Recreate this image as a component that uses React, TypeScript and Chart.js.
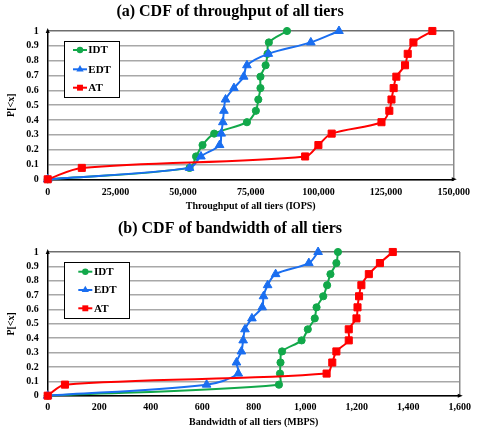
import React, { useEffect, useRef } from 'react';
import { Chart, registerables } from 'chart.js';

Chart.register(...registerables);

// ---- data ----
const CDF_P = [0, 0.077, 0.154, 0.231, 0.308, 0.385, 0.462, 0.538, 0.615, 0.692, 0.769, 0.846, 0.923, 1];

const IDT_IOPS = [0, 52400, 54800, 57200, 61500, 73600, 76900, 77800, 78600, 78600, 80500, 81200, 81700, 88400];
const EDT_IOPS = [0, 52400, 56600, 63500, 64100, 64700, 65100, 65700, 68800, 72400, 73600, 81500, 97200, 107600];
const AT_IOPS = [0, 12600, 95100, 100000, 104900, 123300, 126200, 127000, 127800, 128800, 132000, 133000, 135100, 142100];

const IDT_MBPS = [0, 898, 902, 904, 910, 986, 1010, 1037, 1044, 1070, 1085, 1098, 1121, 1127];
const EDT_MBPS = [0, 617, 740, 733, 752, 759, 766, 793, 833, 838, 854, 885, 1014, 1050];
const AT_MBPS = [0, 67, 1083, 1105, 1121, 1169, 1169, 1199, 1203, 1209, 1218, 1247, 1290, 1340];

const SERIES_LABELS = ['IDT', 'EDT', 'AT'];
const X_TICKS_IOPS = ['0', '25,000', '50,000', '75,000', '100,000', '125,000', '150,000'];
const X_TICKS_MBPS = ['0', '200', '400', '600', '800', '1,000', '1,200', '1,400', '1,600'];
const Y_TICKS = ['0', '0.1', '0.2', '0.3', '0.4', '0.5', '0.6', '0.7', '0.8', '0.9', '1'];

const FONT = "'Liberation Serif', 'Times New Roman', serif";
const COLORS = ['#12a84a', '#1a6ef0', '#ff0000'];
const STYLES = ['circle', 'triangle', 'rect'];
const RADII = [3.6, 5, 5];
const ORDERS = [3, 2, 1];

type Cfg = {
  title: string;
  xTitle: string;
  xMax: number;
  xStep: number;
  xTicks: string[];
  values: number[][];
  titlePad: { top: number; bottom: number };
  xHeight: number;
  xTickPad: number;
  xTitlePad: number;
  legend: { left: number; width: number; lineOff: number; textOff: number; rows: number[] };
};

function drawMarker(ctx: CanvasRenderingContext2D, style: string, x: number, y: number, r: number) {
  ctx.beginPath();
  if (style === 'circle') {
    ctx.arc(x, y, r, 0, Math.PI * 2);
  } else if (style === 'triangle') {
    ctx.moveTo(x, y - r);
    ctx.lineTo(x + r * 0.866, y + r * 0.5);
    ctx.lineTo(x - r * 0.866, y + r * 0.5);
    ctx.closePath();
  } else {
    const s = r * 0.707;
    ctx.rect(x - s, y - s, 2 * s, 2 * s);
  }
  ctx.fill();
}

function CdfChart({ cfg }: { cfg: Cfg }) {
  const ref = useRef<HTMLCanvasElement>(null);
  useEffect(() => {
    const frame = {
      id: 'frame',
      beforeDatasetsDraw(chart: any) {
        const { ctx, chartArea: a } = chart;
        ctx.save();
        ctx.strokeStyle = '#8a8a8a';
        ctx.lineWidth = 1.5;
        ctx.beginPath();
        ctx.moveTo(a.right, a.top);
        ctx.lineTo(a.right, a.bottom);
        ctx.stroke();
        ctx.fillStyle = '#000';
        ctx.beginPath();
        ctx.moveTo(a.left, a.top - 3);
        ctx.lineTo(a.left - 2, a.top + 2);
        ctx.lineTo(a.left + 2, a.top + 2);
        ctx.closePath();
        ctx.fill();
        ctx.beginPath();
        ctx.moveTo(a.right + 3, a.bottom);
        ctx.lineTo(a.right - 2, a.bottom - 2);
        ctx.lineTo(a.right - 2, a.bottom + 2);
        ctx.closePath();
        ctx.fill();
        ctx.restore();
      },
      afterDraw(chart: any) {
        const { ctx, chartArea: a } = chart;
        const L = cfg.legend;
        const bx = a.left + L.left;
        const by = a.top + 10;
        ctx.save();
        ctx.fillStyle = '#fff';
        ctx.fillRect(bx, by, L.width, 56);
        ctx.strokeStyle = '#000';
        ctx.lineWidth = 1;
        ctx.strokeRect(Math.round(bx) + 0.5, Math.round(by) + 0.5, L.width, 56);
        chart.data.datasets.forEach((ds: any, i: number) => {
          const y = by + L.rows[i];
          const x0 = bx + L.lineOff;
          ctx.strokeStyle = ds.borderColor;
          ctx.lineWidth = 2;
          ctx.beginPath();
          ctx.moveTo(x0, y);
          ctx.lineTo(x0 + 14, y);
          ctx.stroke();
          ctx.fillStyle = ds.borderColor;
          drawMarker(ctx, STYLES[i], x0 + 7, y, i === 0 ? 3.2 : 4.2);
          ctx.fillStyle = '#000';
          ctx.font = `bold 11px ${FONT}`;
          ctx.textBaseline = 'middle';
          ctx.textAlign = 'left';
          ctx.fillText(ds.label, bx + L.textOff, y + 0.5);
        });
        ctx.restore();
      },
    };

    const chart = new Chart(ref.current as HTMLCanvasElement, {
      type: 'line',
      data: {
        datasets: SERIES_LABELS.map((label, i) => ({
          label,
          data: cfg.values[i].map((x, k) => ({ x, y: CDF_P[k] })),
          borderColor: COLORS[i],
          backgroundColor: COLORS[i],
          pointBackgroundColor: COLORS[i],
          pointBorderColor: COLORS[i],
          pointStyle: STYLES[i] as any,
          pointRadius: RADII[i],
          pointBorderWidth: 1,
          borderWidth: 2,
          tension: 0.33,
          fill: false,
          clip: false as any,
          order: ORDERS[i],
        })),
      },
      options: {
        animation: false,
        responsive: false,
        events: [],
        layout: { padding: { left: 0, right: 17, top: 0, bottom: 0 } },
        plugins: {
          legend: { display: false },
          tooltip: { enabled: false },
          title: {
            display: true,
            text: cfg.title,
            color: '#000',
            font: { family: FONT, size: 16, weight: 'bold' },
            padding: cfg.titlePad,
          },
        },
        scales: {
          x: {
            type: 'linear',
            min: 0,
            max: cfg.xMax,
            afterFit: (s: any) => { s.height = cfg.xHeight; },
            ticks: {
              stepSize: cfg.xStep,
              autoSkip: false,
              maxRotation: 0,
              padding: cfg.xTickPad,
              color: '#000',
              font: { family: FONT, size: 10, weight: 'bold' },
              callback: (_v: any, i: number) => cfg.xTicks[i],
            },
            grid: { display: false, drawTicks: false },
            border: { display: true, color: '#000', width: 1.5 },
            title: {
              display: true,
              text: cfg.xTitle,
              color: '#000',
              font: { family: FONT, size: 10, weight: 'bold' },
              padding: { top: 0, bottom: cfg.xTitlePad },
            },
          },
          y: {
            type: 'linear',
            min: 0,
            max: 1,
            afterFit: (s: any) => { s.width = 47.7; },
            ticks: {
              stepSize: 0.1,
              autoSkip: false,
              padding: 9,
              color: '#000',
              font: { family: FONT, size: 10, weight: 'bold' },
              callback: (_v: any, i: number) => Y_TICKS[i],
            },
            grid: {
              drawTicks: false,
              lineWidth: 1.5,
              color: (c: any) => (c.tick && c.tick.value > 0.99 ? '#6e6e6e' : '#a8a8a8'),
            },
            border: { display: true, color: '#000', width: 1.5 },
            title: {
              display: true,
              text: 'P[<x]',
              color: '#000',
              font: { family: FONT, size: 10, weight: 'bold' },
              padding: { top: 5.7, bottom: 0 },
            },
          },
        },
      } as any,
      plugins: [frame],
    });
    return () => chart.destroy();
  }, []);
  return <canvas ref={ref} width={477} height={215} style={{ display: 'block' }} />;
}

const CFG_A: Cfg = {
  title: '(a) CDF of throughput of all tiers',
  xTitle: 'Throughput of all tiers (IOPS)',
  xMax: 150000,
  xStep: 25000,
  xTicks: X_TICKS_IOPS,
  values: [IDT_IOPS, EDT_IOPS, AT_IOPS],
  titlePad: { top: 2.4, bottom: 9.4 },
  xHeight: 35.7,
  xTickPad: 7,
  xTitlePad: 3,
  legend: { left: 16.3, width: 55, lineOff: 9, textOff: 24.3, rows: [9, 28.3, 46.7] },
};

const CFG_B: Cfg = {
  title: '(b) CDF of bandwidth of all tiers',
  xTitle: 'Bandwidth of all tiers (MBPS)',
  xMax: 1600,
  xStep: 200,
  xTicks: X_TICKS_MBPS,
  values: [IDT_MBPS, EDT_MBPS, AT_MBPS],
  titlePad: { top: 4.4, bottom: 13.4 },
  xHeight: 34.3,
  xTickPad: 6,
  xTitlePad: 2,
  legend: { left: 16.3, width: 65, lineOff: 14.3, textOff: 30, rows: [9.7, 28, 46.3] },
};

export default function App() {
  return (
    <div style={{ position: 'absolute', left: 0, top: 0, width: 477, height: 430, background: '#fff' }}>
      <CdfChart cfg={CFG_A} />
      <CdfChart cfg={CFG_B} />
    </div>
  );
}
